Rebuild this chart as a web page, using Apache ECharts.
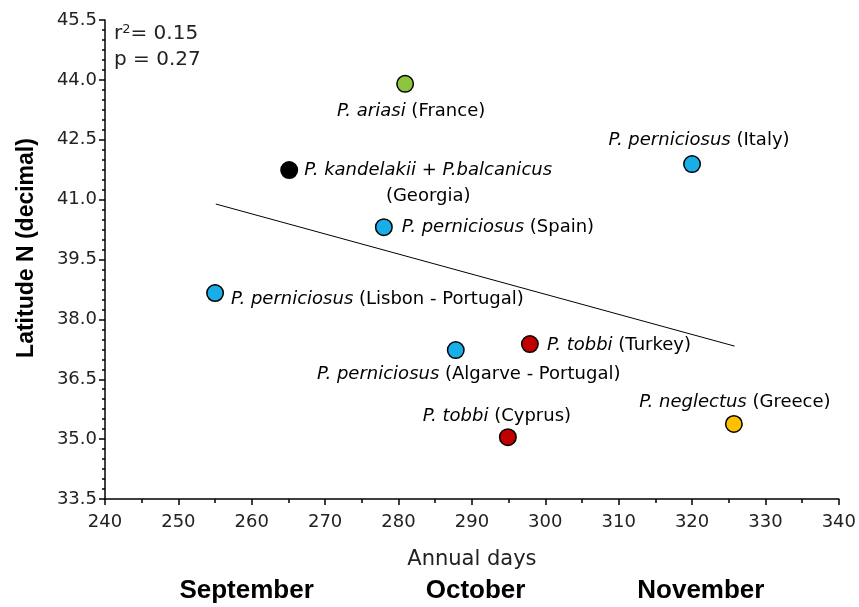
<!DOCTYPE html>
<html>
<head>
<meta charset="utf-8">
<script src="https://cdn.jsdelivr.net/npm/echarts@6/dist/echarts.min.js"></script>
<style>
html,body{margin:0;padding:0;background:#fff;}
#chart{width:859px;height:607px;}
</style>
</head>
<body>
<div id="chart"></div>
<script>
// ---- data ----
const species = ['P. ariasi', 'P. kandelakii + P.balcanicus', 'P. perniciosus', 'P. perniciosus', 'P. perniciosus', 'P. perniciosus', 'P. tobbi', 'P. tobbi', 'P. neglectus'];
const places = ['(France)', '(Georgia)', '(Italy)', '(Spain)', '(Lisbon - Portugal)', '(Algarve - Portugal)', '(Turkey)', '(Cyprus)', '(Greece)'];
const annualDays = [280.9, 265.1, 320.0, 278.0, 255.0, 287.8, 297.9, 294.9, 325.7];
const latitudes = [43.90, 41.74, 41.89, 40.31, 38.66, 37.23, 37.38, 35.05, 35.38];
const trendDays = [255.1, 325.8];
const trendLatitudes = [40.89, 37.33];
const monthNames = ['September', 'October', 'November'];
const monthDays = [259.3, 290.5, 321.2];
const statLines = ['0.15', '0.27'];

// ---- styles / layout ----
const pointColors = ['#8cc63e', '#000000', '#1aaee8', '#1aaee8', '#1aaee8', '#1aaee8', '#c00000', '#c00000', '#ffc000'];
const labelLayout = [
  {align: 'center', offset: [6, 27]},
  {align: 'center', offset: [139, 13], wrap: true},
  {align: 'center', offset: [7, -24]},
  {align: 'left', offset: [18, 0]},
  {align: 'left', offset: [16, 6]},
  {align: 'center', offset: [13, 24]},
  {align: 'left', offset: [17, 1]},
  {align: 'center', offset: [-11, -21]},
  {align: 'center', offset: [1, -22]}
];
const FONT = "'DejaVu Sans', 'Liberation Sans', Arial, sans-serif";
const BFONT = "'Liberation Sans', Arial, sans-serif";

const points = annualDays.map((d, i) => {
  const lay = labelLayout[i];
  return {
    value: [d, latitudes[i]],
    itemStyle: {color: pointColors[i], borderColor: '#000', borderWidth: 1.5, opacity: 1},
    label: {
      show: true,
      position: 'inside',
      align: lay.align,
      verticalAlign: 'middle',
      offset: lay.offset,
      formatter: lay.wrap
        ? '{i|' + species[i] + '}\n{n|' + places[i] + '}'
        : '{i|' + species[i] + '}{n| ' + places[i] + '}'
    }
  };
});

const chart = echarts.init(document.getElementById('chart'), null, {renderer: 'canvas'});
const option = {
  backgroundColor: '#fff',
  animation: false,
  grid: {left: 105, right: 20, top: 20, bottom: 108, containLabel: false},
  xAxis: {
    type: 'value', min: 240, max: 340, interval: 10,
    name: 'Annual days', nameLocation: 'middle', nameGap: 50,
    nameTextStyle: {fontFamily: FONT, fontSize: 21, color: '#222'},
    axisLine: {show: true, onZero: false, lineStyle: {color: '#000', width: 1.5}},
    axisTick: {show: true, length: 6, lineStyle: {color: '#000', width: 1.5}},
    minorTick: {show: true, splitNumber: 2, length: 4, lineStyle: {color: '#000', width: 1.5}},
    axisLabel: {fontFamily: FONT, fontSize: 18, color: '#222', margin: 14},
    splitLine: {show: false}
  },
  yAxis: {
    type: 'value', min: 33.5, max: 45.5, interval: 1.5,
    name: 'Latitude N (decimal)', nameLocation: 'middle', nameGap: 67,
    nameTextStyle: {fontFamily: BFONT, fontSize: 23, fontWeight: 'bold', color: '#000', padding: [0, 0, 0, 23]},
    axisLine: {show: true, onZero: false, lineStyle: {color: '#000', width: 1.5}},
    axisTick: {show: true, length: 6, lineStyle: {color: '#000', width: 1.5}},
    minorTick: {show: true, splitNumber: 6, length: 3, lineStyle: {color: '#000', width: 1.5}},
    axisLabel: {fontFamily: FONT, fontSize: 18, color: '#222', margin: 8, formatter: v => v.toFixed(1)},
    splitLine: {show: false}
  },
  series: [
    {
      type: 'line',
      data: trendDays.map((d, i) => [d, trendLatitudes[i]]),
      symbol: 'none',
      lineStyle: {color: '#000', width: 1},
      silent: true,
      z: 1
    },
    {
      type: 'scatter',
      data: points,
      symbolSize: 16.5,
      z: 3,
      label: {
        fontFamily: FONT, fontSize: 18, color: '#000',
        rich: {
          i: {fontFamily: FONT, fontSize: 18, fontStyle: 'italic', color: '#000', lineHeight: 26, align: 'center'},
          n: {fontFamily: FONT, fontSize: 18, color: '#000', lineHeight: 26, align: 'center'}
        }
      }
    }
  ]
};
chart.setOption(option);

const baseY = chart.convertToPixel({gridIndex: 0}, [240, 33.5])[1];
const graphics = [
  {
    type: 'text', left: 114, top: 23,
    style: {
      text: '{a|r}{s|2}{a|= ' + statLines[0] + '}',
      rich: {
        a: {fontFamily: FONT, fontSize: 20, fill: '#222'},
        s: {fontFamily: FONT, fontSize: 13, fill: '#222', verticalAlign: 'top', padding: [0, 0, 9, 0]}
      }
    }
  },
  {
    type: 'text', left: 114, top: 50,
    style: {text: 'p = ' + statLines[1], font: '20px ' + FONT, fill: '#222'}
  }
];
monthNames.forEach((m, i) => {
  const px = chart.convertToPixel({gridIndex: 0}, [monthDays[i], 33.5])[0];
  graphics.push({
    type: 'text', x: px, y: baseY + 92,
    style: {text: m, font: 'bold 26px ' + BFONT, fill: '#000', align: 'center', verticalAlign: 'middle'}
  });
});
chart.setOption({graphic: graphics});
</script>
</body>
</html>
